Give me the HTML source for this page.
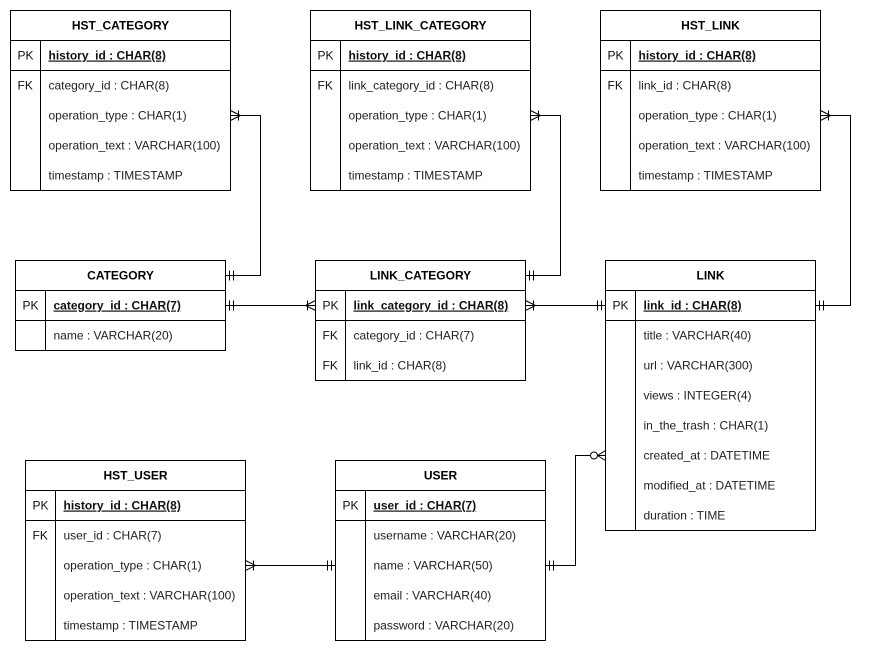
<!DOCTYPE html>
<html><head><meta charset="utf-8"><style>
html,body{margin:0;padding:0;background:#fff;}
svg{display:block;font-family:"Liberation Sans",Arial,sans-serif;font-size:12px;}
.h{font-weight:bold;text-anchor:middle;fill:#000;}
.k{fill:#111;}
.p{font-weight:bold;text-decoration:underline;fill:#111;}
.r{fill:#222;}
rect{fill:#fff;stroke:#000;stroke-width:1;}
line,polyline,path{stroke:#000;stroke-width:1;fill:none;}
</style></head><body>
<svg width="870" height="651" viewBox="0 0 870 651">
<!-- connectors -->
<g>
<polyline points="230.5,115.5 260.5,115.5 260.5,275.5 225.5,275.5"/>
<path d="M230.5,110.5 L240.5,115.5 L230.5,120.5 M238.5,110.5 V120.5"/>
<path d="M229.5,270.5 V280.5 M233.5,270.5 V280.5"/>

<line x1="225.5" y1="305.5" x2="315.5" y2="305.5"/>
<path d="M229.5,300.5 V310.5 M233.5,300.5 V310.5"/>
<path d="M315.5,300.5 L305.5,305.5 L315.5,310.5 M307.5,300.5 V310.5"/>

<polyline points="530.5,115.5 560.5,115.5 560.5,275.5 525.5,275.5"/>
<path d="M530.5,110.5 L540.5,115.5 L530.5,120.5 M538.5,110.5 V120.5"/>
<path d="M529.5,270.5 V280.5 M533.5,270.5 V280.5"/>

<line x1="525.5" y1="305.5" x2="605.5" y2="305.5"/>
<path d="M525.5,300.5 L535.5,305.5 L525.5,310.5 M533.5,300.5 V310.5"/>
<path d="M597.5,300.5 V310.5 M601.5,300.5 V310.5"/>

<polyline points="820.5,115.5 850.5,115.5 850.5,305.5 815.5,305.5"/>
<path d="M820.5,110.5 L830.5,115.5 L820.5,120.5 M828.5,110.5 V120.5"/>
<path d="M819.5,300.5 V310.5 M823.5,300.5 V310.5"/>

<line x1="245.5" y1="565.5" x2="335.5" y2="565.5"/>
<path d="M245.5,560.5 L255.5,565.5 L245.5,570.5 M253.5,560.5 V570.5"/>
<path d="M327.5,560.5 V570.5 M331.5,560.5 V570.5"/>

<polyline points="545.5,565.5 575.5,565.5 575.5,455.5 590.5,455.5"/>
<path d="M549.5,560.5 V570.5 M553.5,560.5 V570.5"/>
<circle cx="594" cy="455.5" r="3.5" fill="#fff" stroke="#000"/>
<path d="M605.5,450.5 L597.5,455.5 L605.5,460.5 M597.5,455.5 H605.5"/>
</g>

<!-- HST_CATEGORY -->
<g transform="translate(10.5,10.5)">
<rect x="0" y="0" width="220" height="180"/>
<line x1="0" y1="30" x2="220" y2="30"/><line x1="0" y1="60" x2="220" y2="60"/><line x1="30" y1="30" x2="30" y2="180"/>
<text class="h" x="110" y="19">HST_CATEGORY</text>
<text class="k" x="7" y="49">PK</text><text class="p" x="38" y="49">history_id : CHAR(8)</text>
<text class="k" x="7" y="79">FK</text><text class="r" x="38" y="79">category_id : CHAR(8)</text>
<text class="r" x="38" y="109">operation_type : CHAR(1)</text>
<text class="r" x="38" y="139">operation_text : VARCHAR(100)</text>
<text class="r" x="38" y="169">timestamp : TIMESTAMP</text>
</g>
<!-- HST_LINK_CATEGORY -->
<g transform="translate(310.5,10.5)">
<rect x="0" y="0" width="220" height="180"/>
<line x1="0" y1="30" x2="220" y2="30"/><line x1="0" y1="60" x2="220" y2="60"/><line x1="30" y1="30" x2="30" y2="180"/>
<text class="h" x="110" y="19">HST_LINK_CATEGORY</text>
<text class="k" x="7" y="49">PK</text><text class="p" x="38" y="49">history_id : CHAR(8)</text>
<text class="k" x="7" y="79">FK</text><text class="r" x="38" y="79">link_category_id : CHAR(8)</text>
<text class="r" x="38" y="109">operation_type : CHAR(1)</text>
<text class="r" x="38" y="139">operation_text : VARCHAR(100)</text>
<text class="r" x="38" y="169">timestamp : TIMESTAMP</text>
</g>
<!-- HST_LINK -->
<g transform="translate(600.5,10.5)">
<rect x="0" y="0" width="220" height="180"/>
<line x1="0" y1="30" x2="220" y2="30"/><line x1="0" y1="60" x2="220" y2="60"/><line x1="30" y1="30" x2="30" y2="180"/>
<text class="h" x="110" y="19">HST_LINK</text>
<text class="k" x="7" y="49">PK</text><text class="p" x="38" y="49">history_id : CHAR(8)</text>
<text class="k" x="7" y="79">FK</text><text class="r" x="38" y="79">link_id : CHAR(8)</text>
<text class="r" x="38" y="109">operation_type : CHAR(1)</text>
<text class="r" x="38" y="139">operation_text : VARCHAR(100)</text>
<text class="r" x="38" y="169">timestamp : TIMESTAMP</text>
</g>
<!-- CATEGORY -->
<g transform="translate(15.5,260.5)">
<rect x="0" y="0" width="210" height="90"/>
<line x1="0" y1="30" x2="210" y2="30"/><line x1="0" y1="60" x2="210" y2="60"/><line x1="30" y1="30" x2="30" y2="90"/>
<text class="h" x="105" y="19">CATEGORY</text>
<text class="k" x="7" y="49">PK</text><text class="p" x="38" y="49">category_id : CHAR(7)</text>
<text class="r" x="38" y="79">name : VARCHAR(20)</text>
</g>
<!-- LINK_CATEGORY -->
<g transform="translate(315.5,260.5)">
<rect x="0" y="0" width="210" height="120"/>
<line x1="0" y1="30" x2="210" y2="30"/><line x1="0" y1="60" x2="210" y2="60"/><line x1="30" y1="30" x2="30" y2="120"/>
<text class="h" x="105" y="19">LINK_CATEGORY</text>
<text class="k" x="7" y="49">PK</text><text class="p" x="38" y="49">link_category_id : CHAR(8)</text>
<text class="k" x="7" y="79">FK</text><text class="r" x="38" y="79">category_id : CHAR(7)</text>
<text class="k" x="7" y="109">FK</text><text class="r" x="38" y="109">link_id : CHAR(8)</text>
</g>
<!-- LINK -->
<g transform="translate(605.5,260.5)">
<rect x="0" y="0" width="210" height="270"/>
<line x1="0" y1="30" x2="210" y2="30"/><line x1="0" y1="60" x2="210" y2="60"/><line x1="30" y1="30" x2="30" y2="270"/>
<text class="h" x="105" y="19">LINK</text>
<text class="k" x="7" y="49">PK</text><text class="p" x="38" y="49">link_id : CHAR(8)</text>
<text class="r" x="38" y="79">title : VARCHAR(40)</text>
<text class="r" x="38" y="109">url : VARCHAR(300)</text>
<text class="r" x="38" y="139">views : INTEGER(4)</text>
<text class="r" x="38" y="169">in_the_trash : CHAR(1)</text>
<text class="r" x="38" y="199">created_at : DATETIME</text>
<text class="r" x="38" y="229">modified_at : DATETIME</text>
<text class="r" x="38" y="259">duration : TIME</text>
</g>
<!-- HST_USER -->
<g transform="translate(25.5,460.5)">
<rect x="0" y="0" width="220" height="180"/>
<line x1="0" y1="30" x2="220" y2="30"/><line x1="0" y1="60" x2="220" y2="60"/><line x1="30" y1="30" x2="30" y2="180"/>
<text class="h" x="110" y="19">HST_USER</text>
<text class="k" x="7" y="49">PK</text><text class="p" x="38" y="49">history_id : CHAR(8)</text>
<text class="k" x="7" y="79">FK</text><text class="r" x="38" y="79">user_id : CHAR(7)</text>
<text class="r" x="38" y="109">operation_type : CHAR(1)</text>
<text class="r" x="38" y="139">operation_text : VARCHAR(100)</text>
<text class="r" x="38" y="169">timestamp : TIMESTAMP</text>
</g>
<!-- USER -->
<g transform="translate(335.5,460.5)">
<rect x="0" y="0" width="210" height="180"/>
<line x1="0" y1="30" x2="210" y2="30"/><line x1="0" y1="60" x2="210" y2="60"/><line x1="30" y1="30" x2="30" y2="180"/>
<text class="h" x="105" y="19">USER</text>
<text class="k" x="7" y="49">PK</text><text class="p" x="38" y="49">user_id : CHAR(7)</text>
<text class="r" x="38" y="79">username : VARCHAR(20)</text>
<text class="r" x="38" y="109">name : VARCHAR(50)</text>
<text class="r" x="38" y="139">email : VARCHAR(40)</text>
<text class="r" x="38" y="169">password : VARCHAR(20)</text>
</g>
</svg>
</body></html>
